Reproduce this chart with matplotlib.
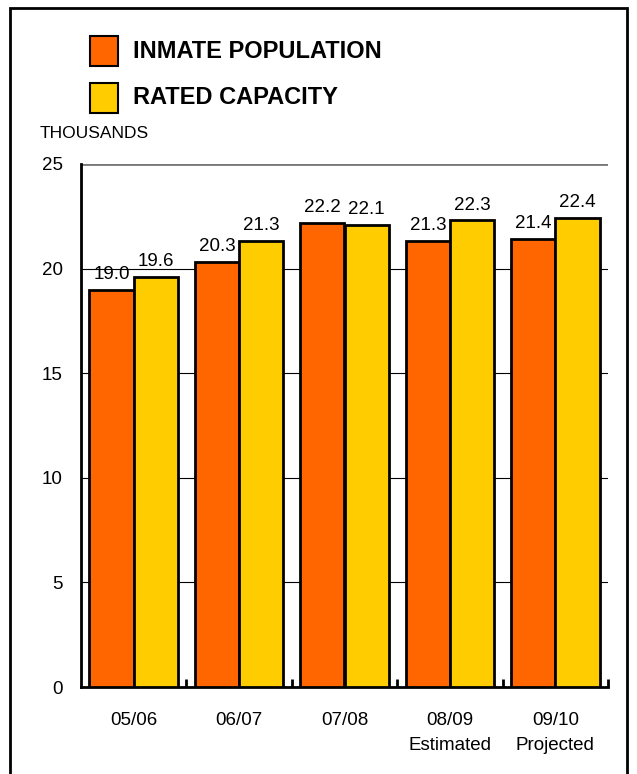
import matplotlib
matplotlib.use("Agg")
import matplotlib.pyplot as plt
import numpy as np
from matplotlib.patches import Rectangle

plt.rcParams['font.family'] = ['Liberation Sans', 'DejaVu Sans']

# data (thousands)
years = ['05/06', '06/07', '07/08', '08/09\nEstimated', '09/10\nProjected']
inmate_pop = [19.0, 20.3, 22.2, 21.3, 21.4]
rated_cap = [19.6, 21.3, 22.1, 22.3, 22.4]

ORANGE = '#FF6600'
YELLOW = '#FFCC00'

fig = plt.figure(figsize=(6.37, 7.74), dpi=100)

# outer frame
fig.patches.append(Rectangle((10 / 637, -0.01), 617 / 637, 1 - 8 / 774 + 0.01,
                             transform=fig.transFigure, fill=False,
                             edgecolor='black', linewidth=2))

ax = fig.add_axes([81 / 637, 87 / 774, 527 / 637, 523 / 774])

x = np.arange(len(years))
w = 0.42
b1 = ax.bar(x - w / 2, inmate_pop, w, color=ORANGE, edgecolor='black', linewidth=2, zorder=3)
b2 = ax.bar(x + w / 2, rated_cap, w, color=YELLOW, edgecolor='black', linewidth=2, zorder=3)

for bars, vals in [(b1, inmate_pop), (b2, rated_cap)]:
    for r, v in zip(bars, vals):
        ax.annotate(f'{v:.1f}', (r.get_x() + r.get_width() / 2, v),
                    xytext=(0, 5), textcoords='offset points',
                    ha='center', va='bottom', fontsize=13.5, zorder=4)

ax.set_xlim(-0.5, len(years) - 0.5)
ax.set_ylim(0, 25)

# gridlines
for y in [5, 10, 15, 20]:
    ax.axhline(y, color='black', linewidth=0.8, zorder=1)
ax.axhline(25, color='#777777', linewidth=2, zorder=1)

for s in ['top', 'right']:
    ax.spines[s].set_visible(False)
ax.spines['left'].set_linewidth(2)
ax.spines['bottom'].set_linewidth(2)

ax.set_yticks([0, 5, 10, 15, 20, 25])
ax.tick_params(axis='y', length=0, labelsize=13.5, pad=13)
ax.set_xticks(x)
ax.set_xticklabels(years, fontsize=13.5, linespacing=1.6)
ax.tick_params(axis='x', which='major', length=0, pad=18)
ax.set_xticks(x + 0.5, minor=True)
ax.tick_params(axis='x', which='minor', direction='in', length=6, width=2)

# legend
fig.patches.append(Rectangle((90 / 637, 1 - 66 / 774), 28 / 637, 30 / 774,
                             transform=fig.transFigure, facecolor=ORANGE,
                             edgecolor='black', linewidth=1.5))
fig.patches.append(Rectangle((90 / 637, 1 - 113 / 774), 28 / 637, 30 / 774,
                             transform=fig.transFigure, facecolor=YELLOW,
                             edgecolor='black', linewidth=1.5))
fig.text(133 / 637, 1 - 51 / 774, 'INMATE POPULATION', fontsize=17,
         fontweight='bold', va='center', ha='left')
fig.text(133 / 637, 1 - 98 / 774, 'RATED CAPACITY', fontsize=17,
         fontweight='bold', va='center', ha='left')
fig.text(40 / 637, 1 - 133 / 774, 'THOUSANDS', fontsize=12.5, va='center', ha='left')

fig.savefig('out.png', dpi=100)
